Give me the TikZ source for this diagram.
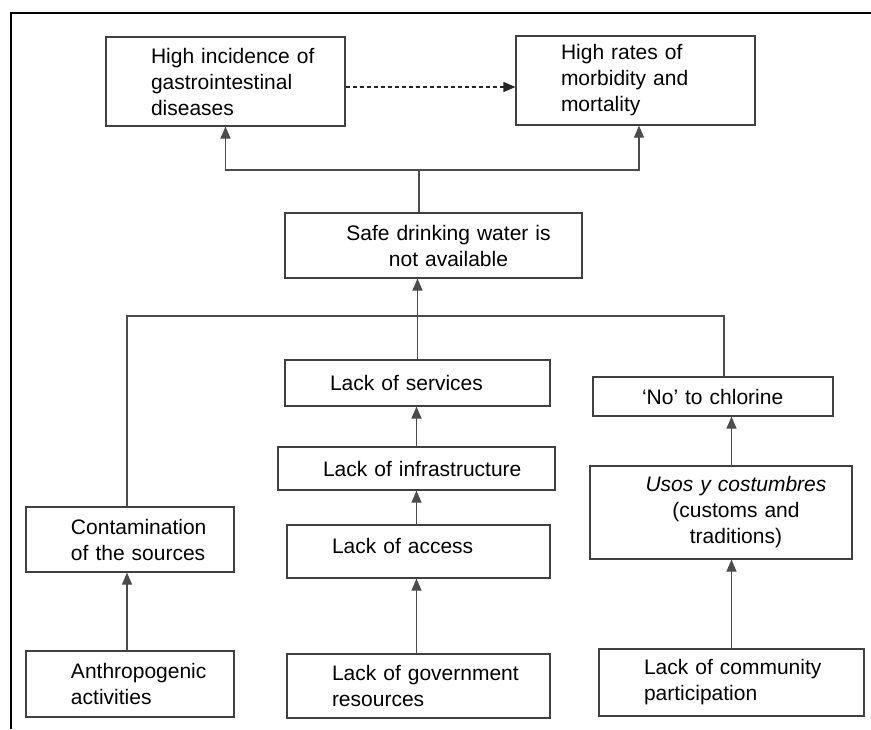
\documentclass[tikz,border=0pt]{standalone}
\usepackage{fontspec}
\setmainfont{Liberation Sans}
\usetikzlibrary{arrows.meta}

\tikzset{
  box/.style={draw=black!75, line width=1.2pt, inner xsep=0pt, inner ysep=0pt,
    font=\fontsize{21}{26}\selectfont},
  leftbox/.style={box, align=left, execute at begin node={\leftskip=45pt\relax}},
  midbox/.style={box, align=center, execute at begin node={%
    \leftskip=30pt plus 1fil\rightskip=0pt plus 1fil\parfillskip=0pt\relax}},
  link/.style={line width=1.2pt, black!70},
  arr/.style={link, -{Triangle[length=12pt,width=10pt]}},
}

\begin{document}
\begin{tikzpicture}[x=1pt,y=-1pt]
    \useasboundingbox (0,0) rectangle (871,729);

    % Frame
    \draw[line width=1.5pt] (11,729) -- (11,13) -- (871,13);

    % Effects
    \node[leftbox, text width=239pt, minimum height=89pt] (incid) at (225.5,81.5)
        {High incidence of\\gastrointestinal\\diseases};
    \node[leftbox, text width=239pt, minimum height=89pt] (rates) at (635.5,80.5)
        {High rates of\\morbidity and\\mortality};

    % Core problem
    \node[midbox, text width=297pt, minimum height=65pt] (safe) at (433.5,245.5)
        {Safe drinking water is\\not available};

    % Causes
    \node[leftbox, text width=265pt, minimum height=46pt] (serv) at (417.5,383)
        {Lack of services};
    \node[leftbox, text width=240pt, minimum height=39pt,
          execute at begin node={\leftskip=49pt\relax}] (chlor) at (713,396.5)
        {`No' to chlorine};
    \node[leftbox, text width=277pt, minimum height=43pt] (infra) at (416.5,468.5)
        {Lack of infrastructure};
    \node[leftbox, text width=263pt, minimum height=53pt, text depth=12pt] (access) at (418.5,551.5)
        {Lack of access};
    \node[midbox, text width=262pt, minimum height=93pt] (usos) at (721,512.5)
        {\textit{Usos y costumbres}\\(customs and\\traditions)};
    \node[leftbox, text width=208pt, minimum height=65pt] (contam) at (130,539.5)
        {Contamination\\of the sources};

    % Root causes
    \node[leftbox, text width=208pt, minimum height=66pt] (anthro) at (130,684)
        {Anthropogenic\\activities};
    \node[leftbox, text width=263pt, minimum height=64pt] (gov) at (418.5,686)
        {Lack of government\\resources};
    \node[leftbox, text width=265pt, minimum height=67pt] (commun) at (731.5,682.5)
        {Lack of community\\participation};

    % Upper links
    \coordinate (topfork) at (419,170);
    \draw[link] (topfork |- safe.north) -- (topfork);
    \draw[arr] (topfork) -| (incid.south);
    \draw[arr] (topfork) -| ([xshift=3.5pt]rates.south);
    \draw[arr, black!85, dash pattern=on 4pt off 3pt]
        ([yshift=-5.5pt]incid.east) -- ([yshift=-5.5pt]incid.east -| rates.west);

    % Lower links
    \coordinate (lowfork) at (417.5,316);
    \draw[arr] (serv.north) -- (serv.north |- safe.south);
    \draw[link] ([xshift=-3pt]contam.north) |- (lowfork) -| ([xshift=11pt]chlor.north);
    \draw[arr] (infra.north) -- (infra.north |- serv.south);
    \draw[arr] (access.north -| infra) -- (infra.south);
    \draw[arr] (gov.north -| infra) -- (access.south -| infra);
    \draw[arr] ([xshift=-3pt]anthro.north) -- ([xshift=-3pt]contam.south);
    \draw[arr] (commun.north) -- (commun.north |- usos.south);
    \draw[arr] (usos.north -| commun) -- (chlor.south -| commun);
\end{tikzpicture}
\end{document}
